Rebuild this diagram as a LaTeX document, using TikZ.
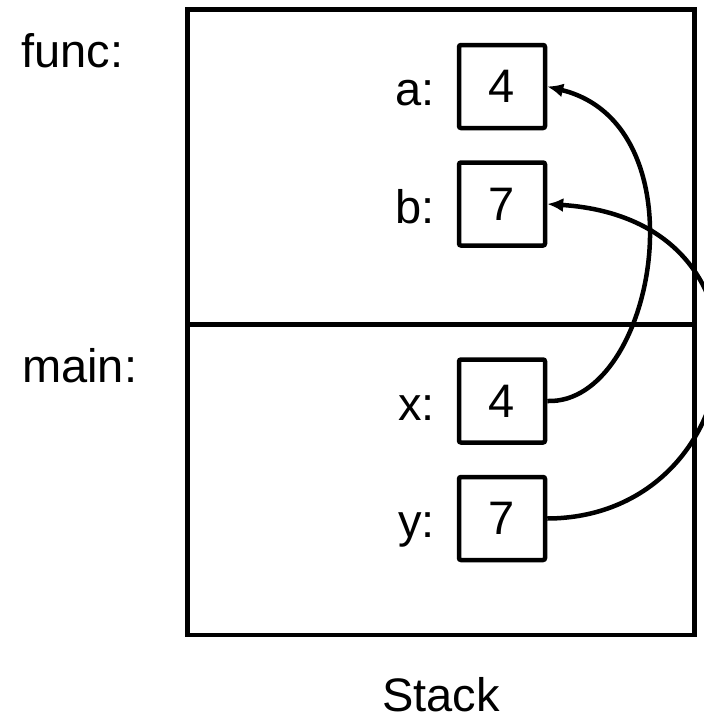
\documentclass[tikz,border=0pt]{standalone}
\usepackage{fontspec}
\setmainfont{Liberation Sans}
\usetikzlibrary{arrows.meta}
\tikzset{
  valbox/.style={draw, line width=4.5pt, rounded corners=2pt, minimum width=86pt, minimum height=83pt, inner sep=0pt, font=\fontsize{47}{56}\selectfont},
  lbl/.style={anchor=base east, inner sep=0pt, font=\fontsize{47}{56}\selectfont},
  frame/.style={anchor=base west, inner sep=0pt, font=\fontsize{47}{56}\selectfont},
  ptr/.style={line width=4.5pt, -{Latex[length=16pt,width=14pt]}}
}
\begin{document}
\begin{tikzpicture}[x=1pt,y=-1pt]
\clip (0,0) rectangle (704,715);
\fill[white] (0,0) rectangle (704,715);
% stack outline
\draw[line width=4.5pt] (187.5,9.5) rectangle (694.5,635);
\draw[line width=4.5pt] (187.5,324.5) -- (694.5,324.5);
% frame labels
\node[frame] (func) at (21,67) {func:};
\node[frame] (main) at (22,382) {main:};
\node[anchor=base, inner sep=0pt, font=\fontsize{47}{56}\selectfont] (stack) at (441,711) {Stack};
% value boxes
\node[valbox] (a) at (502,86.5) {4};
\node[valbox] (b) at (502,204) {7};
\node[valbox] (x) at (502,401) {4};
\node[valbox] (y) at (502,518.5) {7};
% variable labels
\node[lbl] (la) at (435,105) {a:};
\node[lbl] (lb) at (435,223) {b:};
\node[lbl] (lx) at (435,420) {x:};
\node[lbl] (ly) at (435,537) {y:};
% pointers
\draw[ptr] (x.east) .. controls (655,405) and (705,125) .. (a.east);
\draw[ptr] (y.east) .. controls (750,518) and (795,220) .. (b.east);
\end{tikzpicture}
\end{document}
